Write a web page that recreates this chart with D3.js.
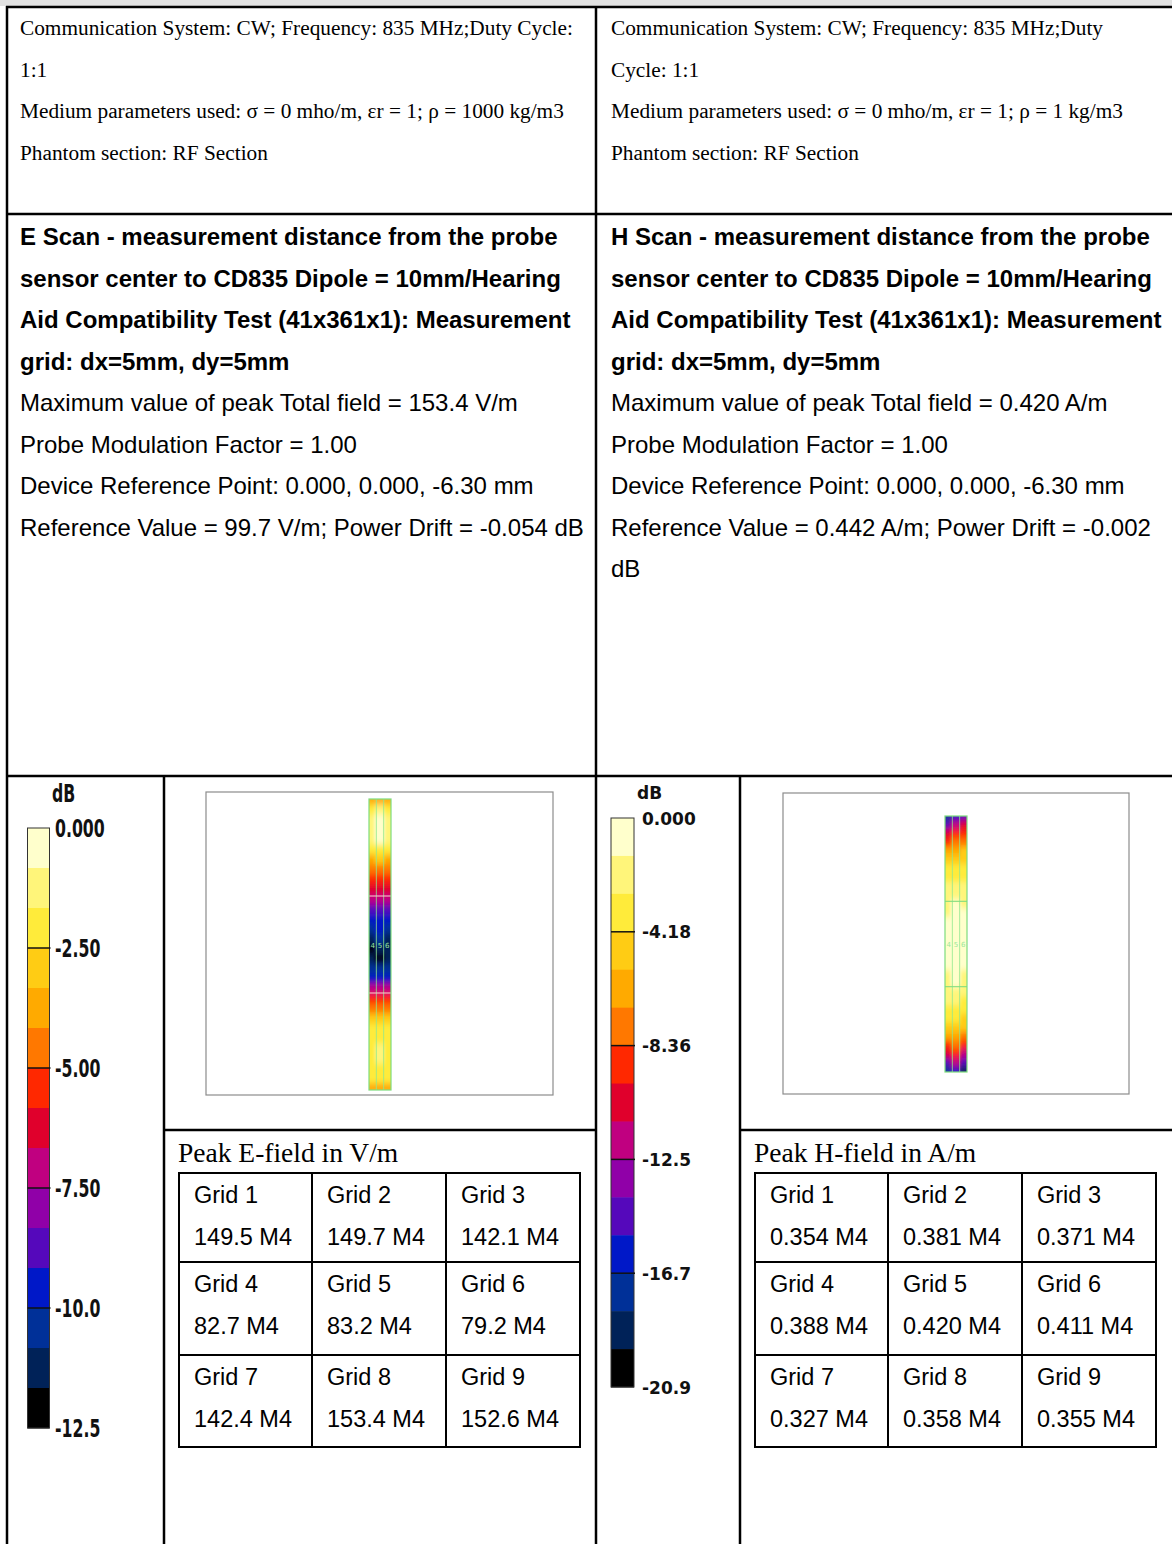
<!DOCTYPE html>
<html>
<head>
<meta charset="utf-8">
<script src="https://cdn.jsdelivr.net/npm/d3@7"></script>
<style>
  body { margin: 0; background: #fff; }
  svg { display: block; }
</style>
</head>
<body>
<div class="sheet"></div>
<script>
// ---- data ----
const colorSteps = [
  "#ffffcc", "#fff57a", "#ffeb3a", "#ffcc14", "#ffaa00",
  "#ff7800", "#ff2800", "#e0002c", "#c00080", "#9000a8",
  "#5508bb", "#0018c8", "#003098", "#002258", "#000000"
];

const eTickValues = [0, -2.5, -5, -7.5, -10, -12.5];
const eTickLabels = ["0.000", "-2.50", "-5.00", "-7.50", "-10.0", "-12.5"];
const hTickValues = [0, -4.18, -8.36, -12.54, -16.72, -20.9];
const hTickLabels = ["0.000", "-4.18", "-8.36", "-12.5", "-16.7", "-20.9"];

const gridNames = ["Grid 1", "Grid 2", "Grid 3", "Grid 4", "Grid 5", "Grid 6", "Grid 7", "Grid 8", "Grid 9"];
const eGridValues = [149.5, 149.7, 142.1, 82.7, 83.2, 79.2, 142.4, 153.4, 152.6];
const hGridValues = [0.354, 0.381, 0.371, 0.388, 0.420, 0.411, 0.327, 0.358, 0.355];

// dB per strip row, top to bottom, [left, centre, right] column
const eStripRows = [
  [-4, -3.5, -4], [-2, -1, -2], [-1.5, -0.5, -1.5], [-1.5, -0.5, -1.5], [-1.5, -0.8, -1.5],
  [-2.2, -1.8, -2.2], [-3.5, -3, -3.5], [-4.5, -4.2, -4.5], [-5.3, -5.2, -5.3], [-6, -6, -6],
  [-7.2, -7, -7.2], [-8.8, -8.5, -8.8], [-9.6, -9.5, -9.6], [-10.3, -10, -10.3], [-11.5, -10.5, -11],
  [-12.3, -11, -11.5], [-11.2, -12.2, -11], [-10.2, -10.5, -10.2], [-9.3, -9.2, -9.3], [-7.5, -7.3, -7.5],
  [-5.8, -5.6, -5.8], [-4.6, -4.4, -4.6], [-3.2, -3, -3.2], [-2.4, -2.2, -2.4], [-2, -1.7, -2],
  [-1.9, -1.5, -1.9], [-1.9, -1.5, -2], [-2, -1.8, -2.1], [-2.5, -2.2, -2.5], [-4, -3.5, -4]
];
const hStripRows = [
  [-18, -16, -15], [-14, -12.5, -11], [-11, -9.5, -8.5], [-8.5, -7.5, -7], [-6.5, -6, -5.5],
  [-5, -4.6, -4.5], [-4, -3.6, -3.5], [-3.2, -2.9, -3], [-2.6, -2.3, -2.5], [-2.2, -1.8, -2],
  [-1.8, -1.3, -1.6], [-1.5, -0.9, -1.3], [-1.3, -0.6, -1.1], [-1.2, -0.4, -1], [-1.1, -0.3, -1],
  [-1.1, -0.3, -1], [-1.2, -0.4, -1.1], [-1.3, -0.6, -1.3], [-1.5, -0.9, -1.6], [-1.8, -1.3, -2],
  [-2.2, -1.8, -2.4], [-2.6, -2.3, -2.8], [-3.2, -2.9, -3.4], [-4, -3.6, -4.3], [-5, -4.6, -5.3],
  [-6.5, -6, -7], [-8.5, -7.5, -9], [-11, -9.5, -11.5], [-14, -12.5, -15], [-18, -16, -19]
];

const leftInfo = [
  "Communication System: CW; Frequency: 835 MHz;Duty Cycle:",
  "1:1",
  "Medium parameters used: σ = 0 mho/m, εr = 1; ρ = 1000 kg/m3",
  "Phantom section: RF Section"
];
const rightInfo = [
  "Communication System: CW; Frequency: 835 MHz;Duty",
  "Cycle: 1:1",
  "Medium parameters used: σ = 0 mho/m, εr = 1; ρ = 1 kg/m3",
  "Phantom section: RF Section"
];
const leftTitle = [
  "E Scan - measurement distance from the probe",
  "sensor center to CD835 Dipole = 10mm/Hearing",
  "Aid Compatibility Test (41x361x1): Measurement",
  "grid: dx=5mm, dy=5mm"
];
const rightTitle = [
  "H Scan - measurement distance from the probe",
  "sensor center to CD835 Dipole = 10mm/Hearing",
  "Aid Compatibility Test (41x361x1): Measurement",
  "grid: dx=5mm, dy=5mm"
];
const leftResults = [
  "Maximum value of peak Total field = 153.4 V/m",
  "Probe Modulation Factor = 1.00",
  "Device Reference Point: 0.000, 0.000, -6.30 mm",
  "Reference Value = 99.7 V/m; Power Drift = -0.054 dB"
];
const rightResults = [
  "Maximum value of peak Total field = 0.420 A/m",
  "Probe Modulation Factor = 1.00",
  "Device Reference Point: 0.000, 0.000, -6.30 mm",
  "Reference Value = 0.442 A/m; Power Drift = -0.002",
  "dB"
];

// ---- page ----
const W = 1172, H = 1544;
const svg = d3.select(".sheet").append("svg")
  .attr("width", W).attr("height", H)
  .attr("viewBox", "0 0 " + W + " " + H);

const defs = svg.append("defs");
defs.append("filter").attr("id", "soft")
  .attr("x", "-20%").attr("y", "-10%").attr("width", "140%").attr("height", "120%")
  .append("feGaussianBlur").attr("stdDeviation", "1.6 3");

svg.append("rect").attr("width", W).attr("height", 6).attr("fill", "#e1e1e1");

// table rules
const rules = [
  [6, 7, W, 7], [7, 214, W, 214], [7, 776, W, 776],
  [7, 6, 7, H], [596, 6, 596, H], [164, 776, 164, H], [740, 776, 740, H],
  [164, 1130, 596, 1130], [740, 1130, W, 1130]
];
svg.append("g").selectAll("line").data(rules).enter().append("line")
  .attr("x1", d => d[0]).attr("y1", d => d[1])
  .attr("x2", d => d[2]).attr("y2", d => d[3])
  .attr("stroke", "#000").attr("stroke-width", 2.5);

const writeLines = (lines, x, y0, step, font) => {
  svg.append("g").selectAll("text").data(lines).enter().append("text")
    .attr("x", x).attr("y", (d, i) => y0 + i * step)
    .attr("font-family", font.family).attr("font-size", font.size)
    .attr("font-weight", font.weight || "normal")
    .attr("fill", "#000")
    .text(d => d);
};

const serif = { family: "'Liberation Serif', 'Times New Roman', serif", size: 21.3 };
const sans = { family: "'Liberation Sans', Arial, sans-serif", size: 24 };
const sansBold = { family: "'Liberation Sans', Arial, sans-serif", size: 24, weight: "bold" };

writeLines(leftInfo, 20, 35, 41.5, serif);
writeLines(rightInfo, 611, 35, 41.5, serif);
writeLines(leftTitle, 20, 245, 41.5, sansBold);
writeLines(rightTitle, 611, 245, 41.5, sansBold);
writeLines(leftResults, 20, 411, 41.5, sans);
writeLines(rightResults, 611, 411, 41.5, sans);

// ---- colour bars ----
const drawBar = (cfg) => {
  const min = cfg.ticks[cfg.ticks.length - 1];
  const y = d3.scaleLinear().domain([0, min]).range([cfg.top, cfg.bottom]);
  const g = svg.append("g");
  const bins = d3.range(colorSteps.length);
  g.selectAll("rect.bin").data(bins).enter().append("rect")
    .attr("class", "bin")
    .attr("x", cfg.x).attr("width", cfg.width)
    .attr("y", i => y(min * i / bins.length))
    .attr("height", i => y(min * (i + 1) / bins.length) - y(min * i / bins.length) + 0.5)
    .attr("fill", i => colorSteps[i]);
  g.append("rect")
    .attr("x", cfg.x).attr("y", cfg.top)
    .attr("width", cfg.width).attr("height", cfg.bottom - cfg.top)
    .attr("fill", "none").attr("stroke", "#333").attr("stroke-width", 1);
  g.selectAll("line.tick").data(cfg.ticks.slice(1, -1)).enter().append("line")
    .attr("class", "tick")
    .attr("x1", cfg.x).attr("x2", cfg.x + cfg.width + 1)
    .attr("y1", d => y(d)).attr("y2", d => y(d))
    .attr("stroke", "#111").attr("stroke-width", 1.5);
  g.selectAll("text.lab").data(cfg.ticks).enter().append("text")
    .attr("class", "lab")
    .attr("transform", d => "translate(" + cfg.labelX + "," + (y(d) + cfg.labelDy) + ") scale(" + cfg.sx + ",1)")
    .attr("font-family", cfg.family).attr("font-size", cfg.size)
    .attr("font-weight", cfg.weight)
    .attr("fill", "#111")
    .text((d, i) => cfg.labels[i]);
  g.append("text")
    .attr("transform", "translate(" + cfg.unitX + "," + cfg.unitY + ") scale(" + cfg.sx + ",1)")
    .attr("font-family", cfg.family).attr("font-size", cfg.size)
    .attr("font-weight", cfg.weight)
    .attr("fill", "#111")
    .text("dB");
  return y;
};

drawBar({
  x: 27.5, width: 22, top: 828, bottom: 1428, ticks: eTickValues, labels: eTickLabels,
  labelX: 55, labelDy: 9, unitX: 52, unitY: 802,
  family: "'DejaVu Sans Condensed', 'DejaVu Sans', sans-serif", size: 25, weight: "bold", sx: 0.7
});
drawBar({
  x: 611, width: 23, top: 818, bottom: 1387, ticks: hTickValues, labels: hTickLabels,
  labelX: 642, labelDy: 6.5, unitX: 637, unitY: 799,
  family: "'DejaVu Sans', sans-serif", size: 17, weight: "bold", sx: 1
});

// ---- field plots ----
const drawPlot = (cfg) => {
  const min = cfg.ticks[cfg.ticks.length - 1];
  const color = d3.scaleThreshold()
    .domain(d3.range(colorSteps.length - 1, 0, -1).map(i => min * i / colorSteps.length))
    .range(colorSteps.slice().reverse());

  svg.append("rect")
    .attr("x", cfg.frame[0]).attr("y", cfg.frame[1])
    .attr("width", cfg.frame[2] - cfg.frame[0]).attr("height", cfg.frame[3] - cfg.frame[1])
    .attr("fill", "#fff").attr("stroke", "#8c8c8c").attr("stroke-width", 1.2);

  // cells bleed a little past the strip so the blur keeps full colour at its edges
  const bleed = 4;
  const x = d3.scaleBand().domain([0, 1, 2]).range([cfg.left - bleed, cfg.right + bleed]);
  const y = d3.scaleBand().domain(d3.range(cfg.rows.length)).range([cfg.top - bleed, cfg.bottom + bleed]);
  const gx = d3.scaleLinear().domain([0, 3]).range([cfg.left, cfg.right]);
  const gy = d3.scaleLinear().domain([0, 3]).range([cfg.top, cfg.bottom]);

  const clipId = cfg.id + "-clip";
  defs.append("clipPath").attr("id", clipId).append("rect")
    .attr("x", cfg.left).attr("y", cfg.top)
    .attr("width", cfg.right - cfg.left).attr("height", cfg.bottom - cfg.top);

  const cells = [];
  cfg.rows.forEach((row, r) => row.forEach((v, c) => cells.push({ r: r, c: c, v: v })));

  const g = svg.append("g").attr("clip-path", "url(#" + clipId + ")");
  g.append("g").attr("filter", "url(#soft)")
    .selectAll("rect").data(cells).enter().append("rect")
    .attr("x", d => x(d.c) - 0.5).attr("y", d => y(d.r) - 0.5)
    .attr("width", x.bandwidth() + 1).attr("height", y.bandwidth() + 1)
    .attr("fill", d => color(d.v));

  // column guides
  g.selectAll("line.col").data([1, 2]).enter().append("line")
    .attr("class", "col")
    .attr("x1", d => gx(d)).attr("x2", d => gx(d))
    .attr("y1", cfg.top).attr("y2", cfg.bottom)
    .attr("stroke", "#8fe88f").attr("stroke-width", 1).attr("opacity", 0.8);
  // measurement grid rows
  g.selectAll("line.row").data([1, 2]).enter().append("line")
    .attr("class", "row")
    .attr("x1", cfg.left).attr("x2", cfg.right)
    .attr("y1", d => gy(d)).attr("y2", d => gy(d))
    .attr("stroke", cfg.gridColor).attr("stroke-width", 1.2).attr("opacity", 0.9);
  g.selectAll("text").data(["4", "5", "6"]).enter().append("text")
    .attr("x", (d, i) => gx(i + 0.5))
    .attr("y", gy(1.5) + 3)
    .attr("text-anchor", "middle")
    .attr("font-family", "'DejaVu Sans', sans-serif").attr("font-size", 7)
    .attr("fill", "#9be89b")
    .text(d => d);

  svg.append("rect")
    .attr("x", cfg.left).attr("y", cfg.top)
    .attr("width", cfg.right - cfg.left).attr("height", cfg.bottom - cfg.top)
    .attr("fill", "none").attr("stroke", "#7ddc7d").attr("stroke-width", 1.2);
};

drawPlot({
  id: "e", frame: [206, 792, 553, 1095],
  left: 369, right: 391, top: 799, bottom: 1090,
  rows: eStripRows, ticks: eTickValues, gridColor: "#f6c8cc"
});
drawPlot({
  id: "h", frame: [783, 793, 1129, 1094],
  left: 945, right: 967, top: 816, bottom: 1072,
  rows: hStripRows, ticks: hTickValues, gridColor: "#7fdc7f"
});

// ---- peak tables ----
const drawTable = (cfg) => {
  const g = svg.append("g");
  g.append("text")
    .attr("x", cfg.captionX).attr("y", 1162)
    .attr("font-family", "'Liberation Serif', 'Times New Roman', serif")
    .attr("font-size", 27.5).attr("fill", "#000")
    .text(cfg.caption);

  const colEdges = cfg.cols, rowEdges = [1173, 1262, 1355, 1447];
  const cells = cfg.values.map((v, i) => ({ name: gridNames[i], v: v, c: i % 3, r: Math.floor(i / 3) }));

  g.selectAll("line.v").data(colEdges).enter().append("line")
    .attr("x1", d => d).attr("x2", d => d)
    .attr("y1", rowEdges[0]).attr("y2", rowEdges[3])
    .attr("stroke", "#000").attr("stroke-width", 2);
  g.selectAll("line.h").data(rowEdges).enter().append("line")
    .attr("x1", colEdges[0] - 1).attr("x2", colEdges[3] + 1)
    .attr("y1", d => d).attr("y2", d => d)
    .attr("stroke", "#000").attr("stroke-width", 2);

  const cellG = g.selectAll("g.cell").data(cells).enter().append("g")
    .attr("transform", d => "translate(" + (colEdges[d.c] + 15) + "," + rowEdges[d.r] + ")");
  cellG.append("text").attr("y", 29.5)
    .attr("font-family", "'Liberation Sans', Arial, sans-serif").attr("font-size", 23.5)
    .text(d => d.name);
  cellG.append("text").attr("y", 71.5)
    .attr("font-family", "'Liberation Sans', Arial, sans-serif").attr("font-size", 23.5)
    .text(d => cfg.fmt(d.v) + " M4");
};

drawTable({ caption: "Peak E-field in V/m", captionX: 178, cols: [179, 312, 446, 580], values: eGridValues, fmt: d3.format(".1f") });
drawTable({ caption: "Peak H-field in A/m", captionX: 754, cols: [755, 888, 1022, 1156], values: hGridValues, fmt: d3.format(".3f") });
</script>
</body>
</html>
